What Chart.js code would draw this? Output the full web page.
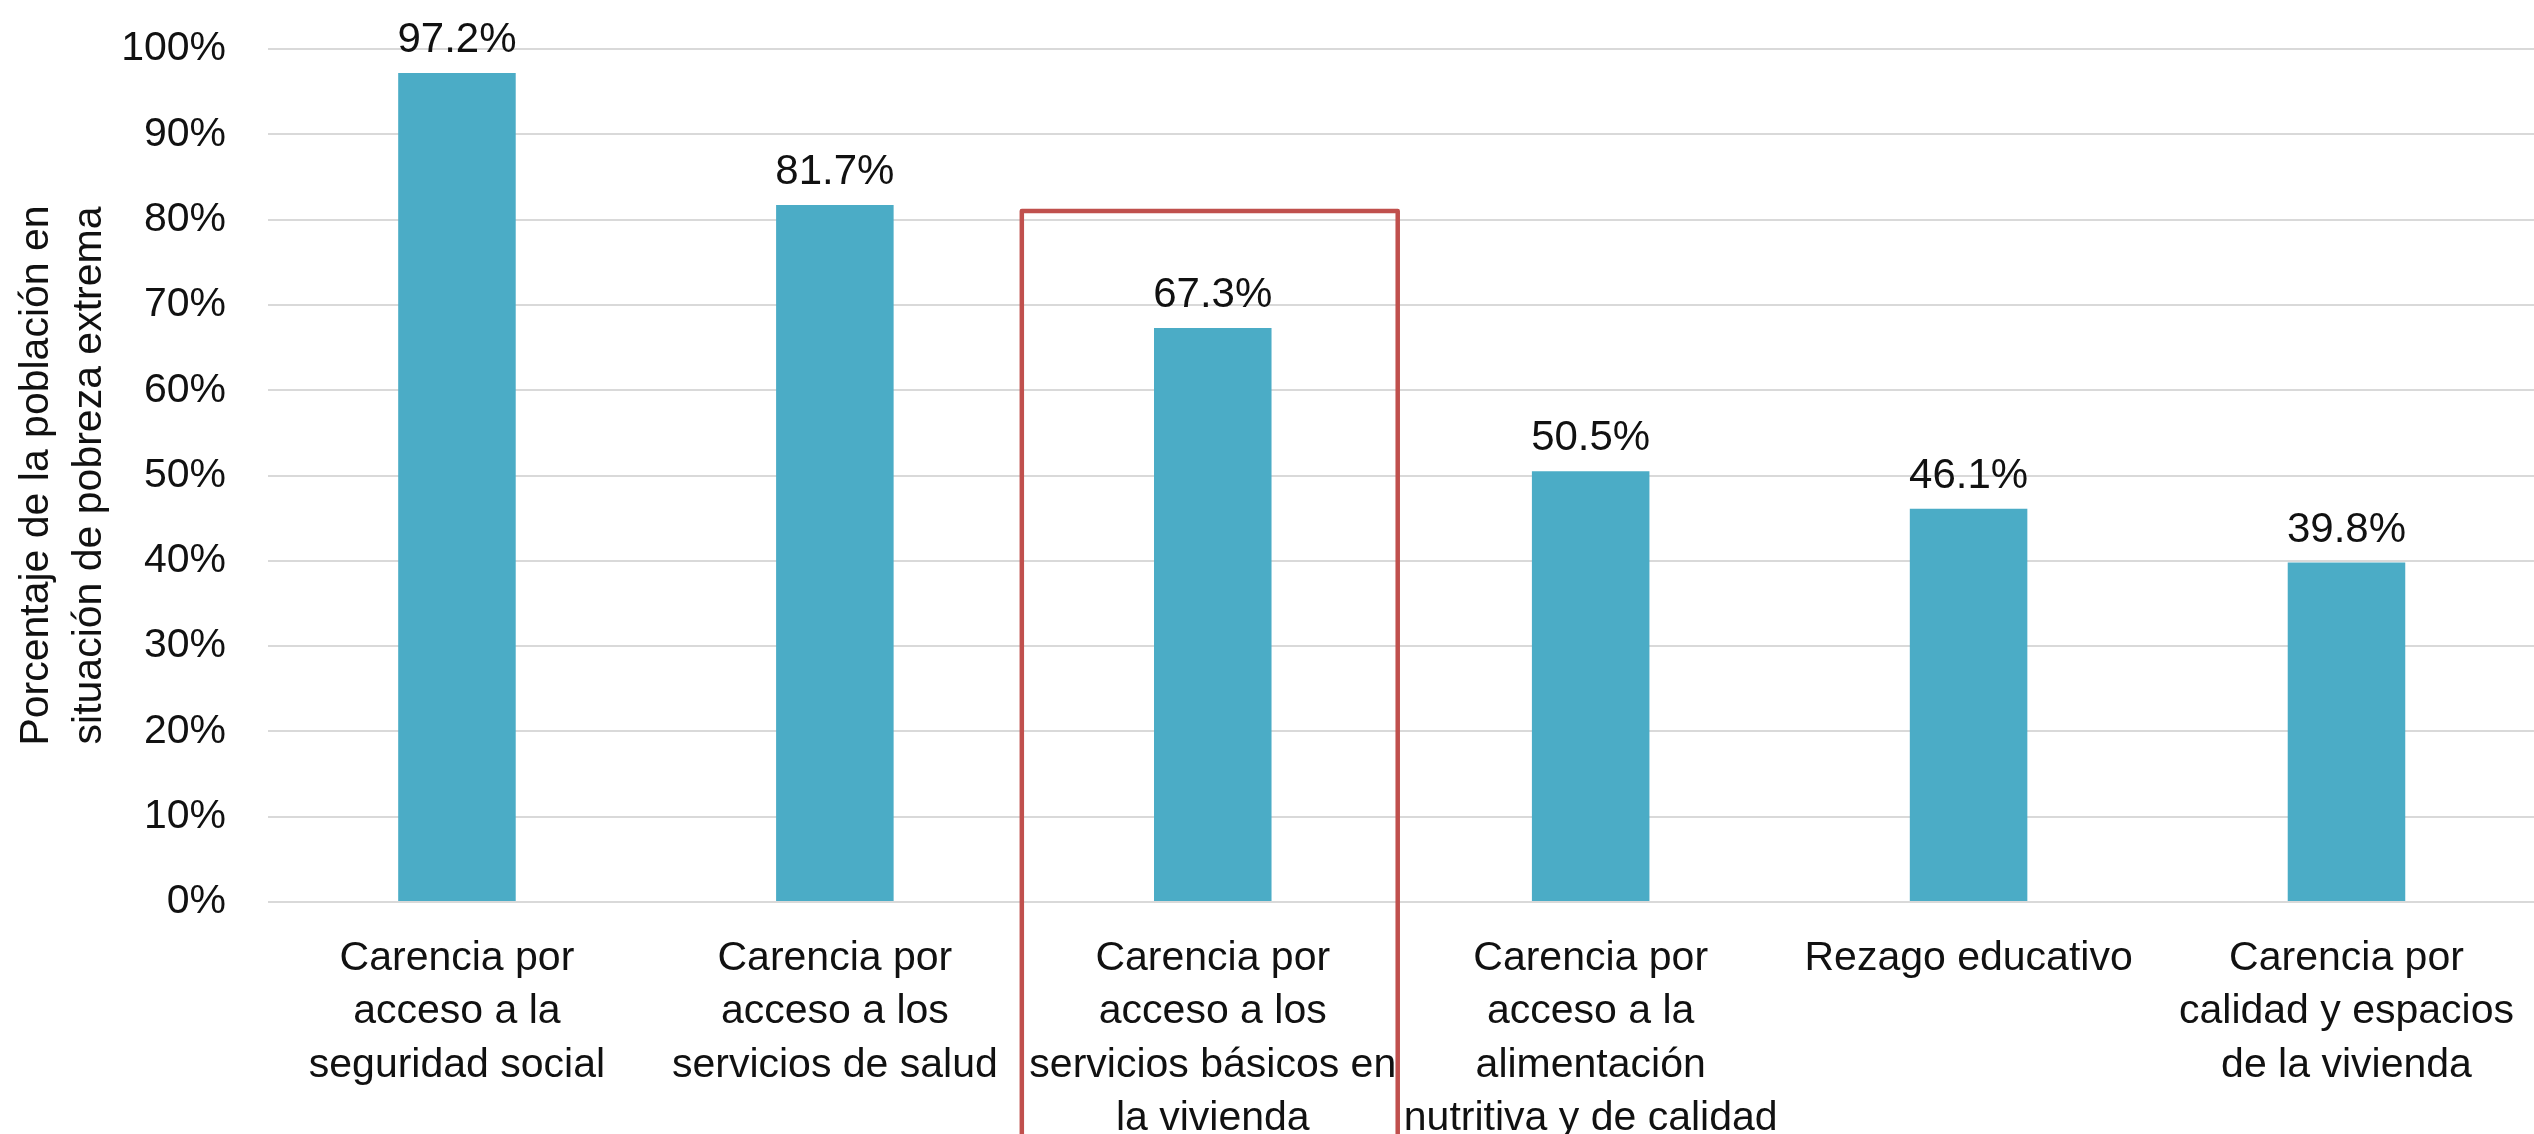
<!DOCTYPE html>
<html>
<head>
<meta charset="utf-8">
<script src="https://cdn.jsdelivr.net/npm/chart.js@4.4.0/dist/chart.umd.min.js"></script>
<style>
html, body { margin: 0; padding: 0; background: #fff; overflow: hidden; }
#wrap { position: absolute; left: 0; top: 0; width: 2544px; height: 1144px; }
</style>
</head>
<body>
<div id="wrap"><canvas id="myChart"></canvas></div>
<script>
// categories (multi-line labels as drawn under the bars)
let categories = [
    ["Carencia por", "acceso a la", "seguridad social"],
    ["Carencia por", "acceso a los", "servicios de salud"],
    ["Carencia por", "acceso a los", "servicios básicos en", "la vivienda"],
    ["Carencia por", "acceso a la", "alimentación", "nutritiva y de calidad"],
    ["Rezago educativo"],
    ["Carencia por", "calidad y espacios", "de la vivienda"]
];
let values = [97.2, 81.7, 67.3, 50.5, 46.1, 39.8];
let yTickValues = [0, 10, 20, 30, 40, 50, 60, 70, 80, 90, 100];
let yTitle = ["Porcentaje de la población en", "situación de pobreza extrema"];
let highlightIndex = 2;   // the category boxed in red
let highlightTop = 81;    // top of the red box, in % on the y axis

Chart.defaults.font.family = "'Liberation Sans', Arial, sans-serif";
Chart.defaults.color = "#111";

// value labels above each bar
const barLabels = {
    id: "barLabels",
    afterDatasetsDraw(chart) {
        const ctx = chart.ctx;
        const meta = chart.getDatasetMeta(0);
        ctx.save();
        ctx.font = "42px 'Liberation Sans', Arial, sans-serif";
        ctx.fillStyle = "#111";
        ctx.textAlign = "center";
        ctx.textBaseline = "alphabetic";
        meta.data.forEach(function(bar, i) {
            ctx.fillText(values[i].toFixed(1) + "%", bar.x, bar.y - 21);
        });
        ctx.restore();
    }
};

// red frame around the highlighted category
const highlightBox = {
    id: "highlightBox",
    afterDraw(chart) {
        const ctx = chart.ctx;
        const x = chart.scales.x;
        const y = chart.scales.y;
        const c = x.getPixelForValue(highlightIndex);
        const half = (x.getPixelForValue(1) - x.getPixelForValue(0)) / 2;
        const left = c - half - 2;
        const right = c + half - 4;
        const top = y.getPixelForValue(highlightTop);
        const bottom = chart.height + 20;
        ctx.save();
        ctx.strokeStyle = "#C0504D";
        ctx.lineWidth = 4.5;
        ctx.lineJoin = "round";
        ctx.beginPath();
        ctx.moveTo(left, bottom);
        ctx.lineTo(left, top);
        ctx.lineTo(right, top);
        ctx.lineTo(right, bottom);
        ctx.stroke();
        ctx.restore();
    }
};

let myChart = document.getElementById("myChart").getContext("2d");
let povertyChart = new Chart(myChart, {
    type: "bar",
    data: {
        labels: categories,
        datasets: [{
            data: values,
            backgroundColor: "#4BACC6",
            borderWidth: 0,
            categoryPercentage: 1,
            barPercentage: 0.311
        }]
    },
    options: {
        responsive: true,
        maintainAspectRatio: false,
        animation: false,
        layout: {
            padding: { top: 49, left: 0, right: 0, bottom: 0 }
        },
        plugins: {
            legend: { display: false },
            title: { display: false },
            tooltip: { enabled: false }
        },
        scales: {
            y: {
                min: 0,
                max: 100,
                afterBuildTicks: function(axis) {
                    axis.ticks = yTickValues.map(function(v) { return { value: v }; });
                },
                afterFit: function(axis) {
                    axis.width = 268;
                    axis.paddingTop = 25;
                    axis.paddingBottom = 25;
                },
                ticks: {
                    padding: 42,
                    font: { size: 41 },
                    color: "#111",
                    callback: function(value) { return value + "%"; }
                },
                grid: {
                    color: "#D9D9D9",
                    lineWidth: 2,
                    drawTicks: false
                },
                border: { display: false },
                title: {
                    display: true,
                    text: yTitle,
                    font: { size: 41, lineHeight: 1.3 },
                    color: "#111",
                    padding: { top: 10, bottom: 5 }
                }
            },
            x: {
                grid: { display: false, drawTicks: false },
                border: { display: false },
                afterFit: function(axis) {
                    axis.height = 242;
                },
                ticks: {
                    padding: 30,
                    font: { size: 41, lineHeight: 1.3 },
                    color: "#111",
                    maxRotation: 0,
                    autoSkip: false
                }
            }
        }
    },
    plugins: [barLabels, highlightBox]
});
</script>
</body>
</html>
